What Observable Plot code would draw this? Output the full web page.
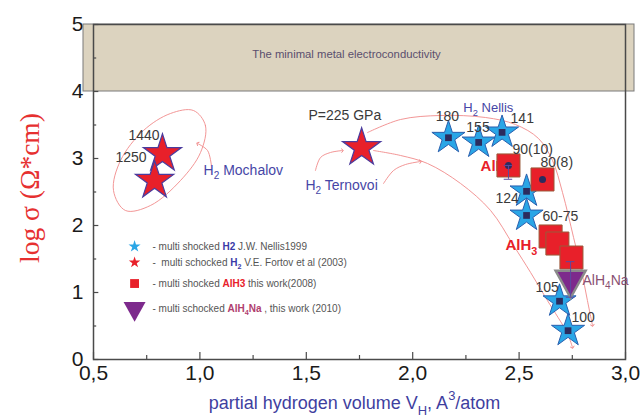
<!DOCTYPE html>
<html><head><meta charset="utf-8">
<script src="https://cdn.jsdelivr.net/npm/d3@7"></script>
<script src="https://cdn.jsdelivr.net/npm/@observablehq/plot@0.6"></script>
<style>body{margin:0;background:#fff;}</style>
</head><body><div id="chart"></div>
<script>
// ---- axis ticks ----
const xTicks = [0.5, 1.0, 1.5, 2.0, 2.5, 3.0];
const xMinor = [0.75, 1.25, 1.75, 2.25, 2.75];
const yTicks = [0, 1, 2, 3, 4, 5];
const yMinor = [0.5, 1.5, 2.5, 3.5, 4.5];

// ---- series (partial hydrogen volume, log sigma) ----
const fortovX = [0.824, 0.787, 1.76];
const fortovY = [3.07, 2.67, 3.16];
const nellisX = [2.168, 2.31, 2.42, 2.535, 2.535, 2.69, 2.73];
const nellisY = [3.31, 3.24, 3.39, 2.51, 2.15, 0.87, 0.43];
const alh3X = [2.45, 2.61, 2.648, 2.68, 2.746];
const alh3Y = [2.896, 2.687, 1.836, 1.731, 1.522];
const alh4naX = [2.742];
const alh4naY = [1.19];
const errBars = [{x: 2.45, lo: 2.69, hi: 2.896}, {x: 2.742, lo: 0.93, hi: 1.46}];
const metalBand = [4, 5];

// ---- annotations (data coordinates) ----
const valueLabels = [
  {text: "1440", x: 0.664, y: 3.343},
  {text: "1250", x: 0.603, y: 3.015},
  {text: "P=225 GPa", x: 1.510, y: 3.642},
  {text: "180", x: 2.108, y: 3.63},
  {text: "155", x: 2.252, y: 3.46},
  {text: "141", x: 2.46, y: 3.597},
  {text: "90(10)", x: 2.469, y: 3.134},
  {text: "80(8)", x: 2.60, y: 2.94},
  {text: "124", x: 2.389, y: 2.403},
  {text: "60-75", x: 2.61, y: 2.134},
  {text: "105", x: 2.577, y: 1.075},
  {text: "100", x: 2.746, y: 0.627}
];
const sourceLabels = [
  {text: "H_{2} Mochalov", x: 1.017, y: 2.82},
  {text: "H_{2} Ternovoi", x: 1.496, y: 2.597}
];
const nellisLabel = [{text: "H_{2} Nellis", x: 2.238, y: 3.76}];
const compoundLabels = [
  {text: "AlH_{3}", x: 2.319, y: 2.881},
  {text: "AlH_{3}", x: 2.436, y: 1.70}
];
const alh4naLabel = [{text: "AlH_{4}Na", x: 2.798, y: 1.18}];
const bandLabel = [{text: "The minimal metal electroconductivity", x: 1.689, y: 4.55}];

// ellipse and arrows
const ellipseX = [0.970, 1.026, 1.003, 0.909, 0.768, 0.650, 0.594, 0.627, 0.735, 0.862];
const ellipseY = [3.716, 3.493, 3.090, 2.672, 2.299, 2.224, 2.522, 2.970, 3.418, 3.672];
const upperArcX = [1.788, 1.943, 2.131, 2.342, 2.483, 2.591, 2.657, 2.704, 2.756, 2.793, 2.821, 2.845];
const upperArcY = [3.388, 3.582, 3.642, 3.612, 3.507, 3.299, 2.970, 2.493, 1.821, 1.328, 0.881, 0.507];
const lowerArcX = [1.816, 1.943, 2.070, 2.225, 2.366, 2.474, 2.554, 2.633, 2.727, 2.751];
const lowerArcY = [3.119, 3.045, 2.925, 2.627, 2.224, 1.701, 1.299, 0.881, 0.388, 0.179];
const mochArrowX = [1.054, 1.036, 0.989];
const mochArrowY = [2.896, 3.119, 3.224];
const tern1X = [1.543, 1.567, 1.614, 1.670];
const tern1Y = [2.821, 3.015, 3.090, 3.119];
const tern2X = [1.863, 1.910, 1.966, 2.037];
const tern2Y = [2.627, 2.821, 2.910, 2.955];

// ---- legend ----
const legendText = [
  "- multi shocked [#3a3aa8:H2] J.W. Nellis1999",
  "-  multi schocked [#3a3aa8:H_{2}] V.E. Fortov et al (2003)",
  "- multi shocked [#e8202a:AlH3] this work(2008)",
  "- multi schocked [#b0406e:AlH_{4}Na] , this work (2010)"
];
const legendY = [1.687, 1.448, 1.134, 0.761];
const legendSymbolX = 0.693;
const legendTextX = 0.777;

const zip = (xs, ys) => xs.map((x, i) => ({x, y: ys[i]}));
const fortov = zip(fortovX, fortovY);
const nellis = zip(nellisX, nellisY);
const alh3 = zip(alh3X, alh3Y);
const alh4na = zip(alh4naX, alh4naY);
const ellipse = zip(ellipseX, ellipseY);
const upperArc = zip(upperArcX, upperArcY);
const lowerArc = zip(lowerArcX, lowerArcY);
const mochArrow = zip(mochArrowX, mochArrowY);
const tern1 = zip(tern1X, tern1Y);
const tern2 = zip(tern2X, tern2Y);
const legend = legendText.map((t, i) => ({text: t, x: legendTextX, sx: legendSymbolX, y: legendY[i]}));

const triDown = {draw(ctx, size) {
  const r = Math.sqrt(size / Math.PI);
  ctx.moveTo(-r, -0.6 * r); ctx.lineTo(r, -0.6 * r); ctx.lineTo(0, 1.2 * r); ctx.closePath();
}};

const SANS = "'Liberation Sans', Arial, sans-serif";
const pink = "#f08a8a";
const curveStyle = {x: "x", y: "y", stroke: pink, strokeWidth: 0.9, curve: "catmull-rom"};

const chart = Plot.plot({
  width: 642, height: 418,
  marginLeft: 93, marginRight: 17, marginTop: 24, marginBottom: 59,
  style: {fontFamily: SANS, fontSize: "21px", color: "#1a1a1a", background: "#fff", overflow: "visible"},
  x: {domain: [0.5, 3.0], ticks: xTicks, tickFormat: d => d.toFixed(1).replace(".", ","), tickSize: 0, tickPadding: 6, label: null},
  y: {domain: [0, 5], ticks: yTicks, tickFormat: d => String(d), tickSize: 0, tickPadding: 10, label: null},
  marks: [
    Plot.rect([metalBand], {y1: d => d[0], y2: d => d[1], fill: "#dcd3bf", stroke: "#7a7a7a", strokeWidth: 1, insetLeft: -10, insetRight: -9}),
    Plot.frame({stroke: "#4a4a4a", strokeWidth: 1.5}),
    Plot.ruleX(xTicks, {x: d => d, y1: 0, y2: 0.105, stroke: "#4a4a4a", strokeWidth: 1.2}),
    Plot.ruleX(xMinor, {x: d => d, y1: 0, y2: 0.06, stroke: "#4a4a4a", strokeWidth: 1.2}),
    Plot.ruleY(yTicks, {y: d => d, x1: 0.5, x2: 0.5 + 0.025, stroke: "#4a4a4a", strokeWidth: 1.2}),
    Plot.ruleY(yMinor, {y: d => d, x1: 0.5, x2: 0.5 + 0.015, stroke: "#4a4a4a", strokeWidth: 1.2}),
    Plot.text(bandLabel, {x: "x", y: "y", text: "text", fontSize: 11.3, fill: "#5a4f6e", fontFamily: SANS}),
    // decorations
    Plot.line(ellipse, {...curveStyle, curve: "catmull-rom-closed"}),
    Plot.line(upperArc, {...curveStyle, markerEnd: "arrow"}),
    Plot.line(lowerArc, {...curveStyle, markerEnd: "arrow"}),
    Plot.line(mochArrow, {...curveStyle, markerEnd: "arrow"}),
    Plot.line(tern1, {...curveStyle, markerEnd: "arrow"}),
    Plot.line(tern2, {...curveStyle, markerEnd: "arrow"}),
    Plot.text(compoundLabels, {x: "x", y: "y", text: "text", textAnchor: "start", fontSize: 15, fontWeight: "bold", fill: "#e8202a", fontFamily: SANS}),
    // data points
    Plot.dot(fortov, {x: "x", y: "y", symbol: "star", r: 12, fill: "#e8202a", stroke: "#4b3c9e", strokeWidth: 1.2}),
    Plot.dot(nellis, {x: "x", y: "y", symbol: "star", r: 10.4, fill: "#2aa6e6", stroke: "#2a5fae", strokeWidth: 1}),
    Plot.dot(nellis, {x: "x", y: "y", symbol: "square", r: 3.8, fill: "#2c2c5e"}),
    Plot.dot(alh3, {x: "x", y: "y", symbol: "square", r: 13, fill: "#e8202a", stroke: "#9a5a3a", strokeWidth: 1}),
    Plot.dot(alh3.slice(0, 2), {x: "x", y: "y", r: 3.5, fill: "#2c2c5e"}),
    Plot.dot(alh4na, {x: "x", y: "y", symbol: triDown, r: 15, fill: "#7d2a8c", stroke: "#8a8a8a", strokeWidth: 2.5}),
    Plot.ruleX(errBars, {x: "x", y1: "lo", y2: "hi", stroke: "#5a4aa0", strokeWidth: 1}),
    Plot.ruleY(errBars, {y: "lo", x1: d => d.x - 0.02, x2: d => d.x + 0.02, stroke: "#5a4aa0", strokeWidth: 1}),
    Plot.ruleY(errBars, {y: "hi", x1: d => d.x - 0.02, x2: d => d.x + 0.02, stroke: "#5a4aa0", strokeWidth: 1}),
    // labels
    Plot.text(valueLabels, {x: "x", y: "y", text: "text", textAnchor: "start", fontSize: 14, fill: "#3a3a3a", fontFamily: SANS}),
    Plot.text(sourceLabels, {x: "x", y: "y", text: "text", textAnchor: "start", fontSize: 14, fill: "#4646a6", fontFamily: SANS}),
    Plot.text(nellisLabel, {x: "x", y: "y", text: "text", textAnchor: "start", fontSize: 13, fill: "#4646a6", fontFamily: SANS}),
    Plot.text(alh4naLabel, {x: "x", y: "y", text: "text", textAnchor: "start", fontSize: 14, fill: "#8a5072", fontFamily: SANS}),
    // legend
    Plot.dot(legend.slice(0, 1), {x: "sx", y: "y", symbol: "star", r: 3.8, fill: "#2aa6e6"}),
    Plot.dot(legend.slice(1, 2), {x: "sx", y: "y", symbol: "star", r: 3.6, fill: "#e8202a"}),
    Plot.dot(legend.slice(2, 3), {x: "sx", y: "y", symbol: "square", r: 5, fill: "#e8202a"}),
    Plot.dot(legend.slice(3, 4), {x: "sx", y: "y", symbol: triDown, r: 11, fill: "#7d2a8c"}),
    Plot.text(legend, {x: "x", y: "y", text: "text", textAnchor: "start", fontSize: 10, fill: "#555", fontFamily: SANS}),
    // axis titles
    Plot.text(["log σ (Ω*cm)"], {frameAnchor: "left", textAnchor: "middle", lineAnchor: "middle", text: d => d, rotate: -90, dx: -63, dy: -4, fontSize: 27.5, fill: "#e63030", fontFamily: "'Liberation Serif', 'Times New Roman', serif"}),
    Plot.text(["partial hydrogen volume V_{H}, A^{3}/atom"], {frameAnchor: "bottom", textAnchor: "middle", lineAnchor: "middle", text: d => d, dy: 44, dx: -5, fontSize: 18, fill: "#3f3f9f", fontFamily: SANS})
  ]
});

document.getElementById("chart").appendChild(chart);

// rich text: _{sub}, ^{sup}, [#color:bold text]
function parseRich(s, style, out) {
  let i = 0, buf = "";
  const flush = () => { if (buf) { out.push({...style, text: buf}); buf = ""; } };
  while (i < s.length) {
    const c = s[i];
    if ((c === "_" || c === "^") && s[i + 1] === "{") {
      flush();
      const j = s.indexOf("}", i);
      out.push({...style, text: s.slice(i + 2, j), shift: c === "_" ? "sub" : "sup"});
      i = j + 1;
    } else if (c === "[" && s[i + 1] === "#") {
      flush();
      const j = s.indexOf("]", i);
      const inner = s.slice(i + 1, j);
      const k = inner.indexOf(":");
      parseRich(inner.slice(k + 1), {...style, color: inner.slice(0, k), bold: true}, out);
      i = j + 1;
    } else { buf += c; i++; }
  }
  flush();
  return out;
}
chart.querySelectorAll("text").forEach(t => {
  if (t.children.length) return;
  const s = t.textContent;
  if (!/[_^]\{|\[#/.test(s)) return;
  const fs = parseFloat(getComputedStyle(t).fontSize) || 12;
  const parts = parseRich(s, {}, []);
  t.textContent = "";
  let cur = 0;
  for (const p of parts) {
    const ts = document.createElementNS("http://www.w3.org/2000/svg", "tspan");
    const target = p.shift === "sub" ? 0.3 * fs : p.shift === "sup" ? -0.5 * fs : 0;
    if (target !== cur) { ts.setAttribute("dy", target - cur); cur = target; }
    if (p.shift) ts.setAttribute("font-size", 0.72 * fs);
    if (p.color) ts.setAttribute("fill", p.color);
    if (p.bold) ts.setAttribute("font-weight", "bold");
    ts.textContent = p.text;
    t.appendChild(ts);
  }
});
</script>
</body></html>
